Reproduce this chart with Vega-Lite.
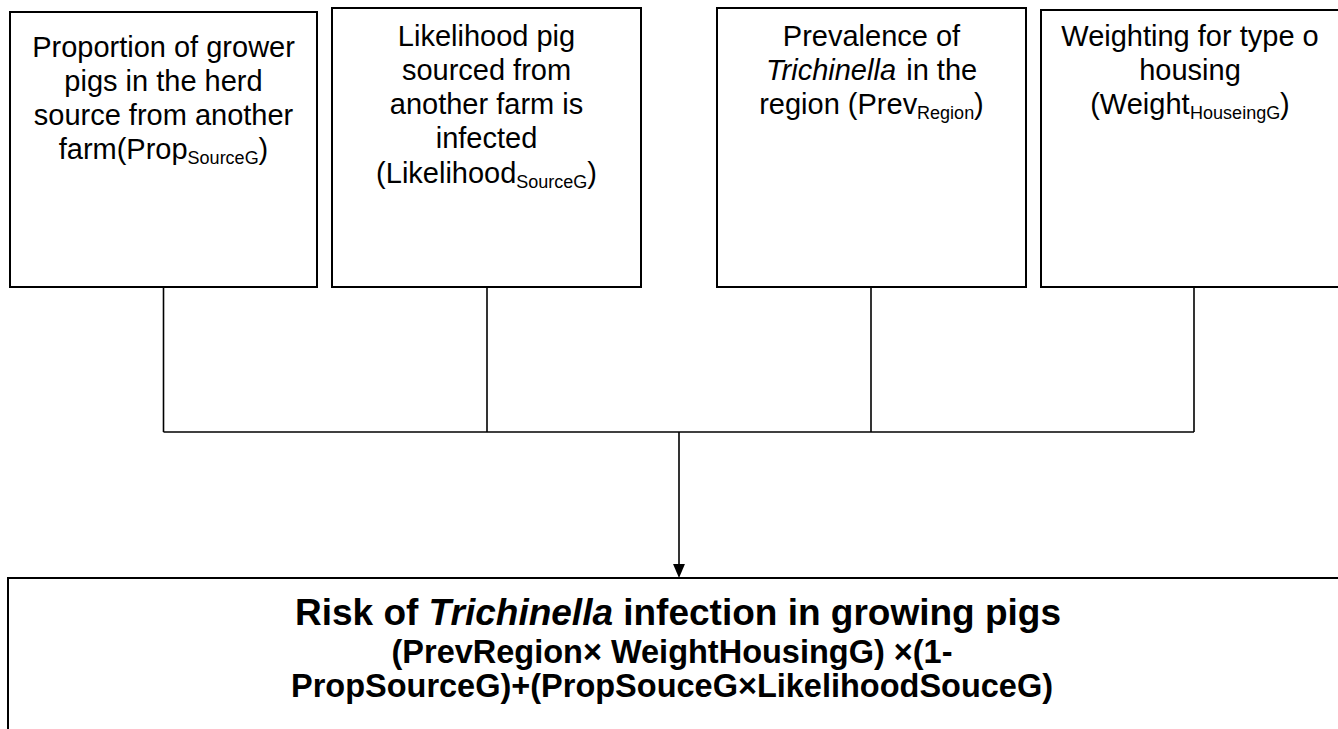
{
  "$schema": "https://vega.github.io/schema/vega-lite/v6.json",
  "width": 1338,
  "height": 729,
  "autosize": "none",
  "padding": 0,
  "background": "white",
  "config": {"view": {"stroke": null}},
  "datasets": {
    "boxes": [
      {"box": "Proportion sourced", "x": 10, "x2": 317, "y": 12, "y2": 287},
      {"box": "Likelihood sourced infected", "x": 332, "x2": 641, "y": 8, "y2": 287},
      {"box": "Prevalence region", "x": 717, "x2": 1026, "y": 8, "y2": 287},
      {"box": "Weighting housing", "x": 1041, "x2": 1340, "y": 10, "y2": 287},
      {"box": "Risk growing pigs", "x": 8, "x2": 1346, "y": 578, "y2": 760}
    ],
    "links": [
      {"link": "from box 1", "x": 163.5, "y": 287, "x2": 163.5, "y2": 432},
      {"link": "from box 2", "x": 487, "y": 287, "x2": 487, "y2": 432},
      {"link": "from box 3", "x": 871, "y": 287, "x2": 871, "y2": 432},
      {"link": "from box 4", "x": 1194, "y": 287, "x2": 1194, "y2": 432},
      {"link": "join", "x": 163.5, "y": 432, "x2": 1194, "y2": 432},
      {"link": "to result", "x": 679, "y": 432, "x2": 679, "y2": 566}
    ],
    "heads": [
      {"head": "to result", "x": 679, "y": 571}
    ],
    "labels": [
      {"role": "body", "x": 163.5, "y": 57, "text": "Proportion of grower"},
      {"role": "body", "x": 163.5, "y": 91, "text": "pigs in the herd"},
      {"role": "body", "x": 163.5, "y": 125, "text": "source from another"},
      {"role": "bodyLeft", "x": 58.7, "y": 159, "text": "farm(Prop"},
      {"role": "sub", "x": 187.6, "y": 164, "text": "SourceG"},
      {"role": "bodyLeft", "x": 258.6, "y": 159, "text": ")"},

      {"role": "body", "x": 486.5, "y": 46, "text": "Likelihood pig"},
      {"role": "body", "x": 486.5, "y": 80, "text": "sourced from"},
      {"role": "body", "x": 486.5, "y": 114, "text": "another farm is"},
      {"role": "body", "x": 486.5, "y": 148, "text": "infected"},
      {"role": "bodyLeft", "x": 376.1, "y": 183, "text": "(Likelihood"},
      {"role": "sub", "x": 516.3, "y": 188, "text": "SourceG"},
      {"role": "bodyLeft", "x": 587.3, "y": 183, "text": ")"},

      {"role": "body", "x": 871.5, "y": 46, "text": "Prevalence of"},
      {"role": "bodyItalic", "x": 766, "y": 80, "text": "Trichinella"},
      {"role": "bodyLeft", "x": 906.2, "y": 80, "text": "in the"},
      {"role": "bodyLeft", "x": 759.2, "y": 114, "text": "region (Prev"},
      {"role": "sub", "x": 917.1, "y": 119, "text": "Region"},
      {"role": "bodyLeft", "x": 974.1, "y": 114, "text": ")"},

      {"role": "body", "x": 1190, "y": 46, "text": "Weighting for type o"},
      {"role": "body", "x": 1190, "y": 80, "text": "housing"},
      {"role": "bodyLeft", "x": 1090.2, "y": 114, "text": "(Weight"},
      {"role": "sub", "x": 1190.1, "y": 119, "text": "HouseingG"},
      {"role": "bodyLeft", "x": 1280.1, "y": 114, "text": ")"},

      {"role": "title", "x": 295, "y": 625, "text": "Risk of"},
      {"role": "titleItalic", "x": 428.6, "y": 625, "text": "Trichinella"},
      {"role": "title", "x": 623.2, "y": 625, "text": "infection in growing pigs"},
      {"role": "formula", "x": 672, "y": 663, "text": "(PrevRegion× WeightHousingG) ×(1-"},
      {"role": "formula", "x": 672, "y": 697, "text": "PropSourceG)+(PropSouceG×LikelihoodSouceG)"}
    ]
  },
  "encoding": {
    "x": {"field": "x", "type": "quantitative", "axis": null, "scale": {"domain": [0, 1338], "nice": false, "zero": false}},
    "y": {"field": "y", "type": "quantitative", "axis": null, "scale": {"domain": [0, 729], "nice": false, "zero": false, "reverse": true}}
  },
  "layer": [
    {
      "data": {"name": "boxes"},
      "mark": {"type": "rect", "fill": "white", "stroke": "black", "strokeWidth": 2},
      "encoding": {"x2": {"field": "x2"}, "y2": {"field": "y2"}}
    },
    {
      "data": {"name": "links"},
      "mark": {"type": "rule", "stroke": "black", "strokeWidth": 1.6},
      "encoding": {"x2": {"field": "x2"}, "y2": {"field": "y2"}}
    },
    {
      "data": {"name": "heads"},
      "mark": {"type": "point", "shape": "M-0.85,-1L0.85,-1L0,1Z", "filled": true, "fill": "black", "stroke": null, "size": 196, "opacity": 1},
      "encoding": {}
    },
    {
      "data": {"name": "labels"},
      "transform": [{"filter": "datum.role === 'body'"}],
      "mark": {"type": "text", "font": "Liberation Sans", "fontSize": 29, "align": "center", "baseline": "alphabetic", "color": "black"},
      "encoding": {"text": {"field": "text"}}
    },
    {
      "data": {"name": "labels"},
      "transform": [{"filter": "datum.role === 'bodyLeft'"}],
      "mark": {"type": "text", "font": "Liberation Sans", "fontSize": 29, "align": "left", "baseline": "alphabetic", "color": "black"},
      "encoding": {"text": {"field": "text"}}
    },
    {
      "data": {"name": "labels"},
      "transform": [{"filter": "datum.role === 'bodyItalic'"}],
      "mark": {"type": "text", "font": "Liberation Sans", "fontSize": 29, "fontStyle": "italic", "align": "left", "baseline": "alphabetic", "color": "black"},
      "encoding": {"text": {"field": "text"}}
    },
    {
      "data": {"name": "labels"},
      "transform": [{"filter": "datum.role === 'sub'"}],
      "mark": {"type": "text", "font": "Liberation Sans", "fontSize": 18, "align": "left", "baseline": "alphabetic", "color": "black"},
      "encoding": {"text": {"field": "text"}}
    },
    {
      "data": {"name": "labels"},
      "transform": [{"filter": "datum.role === 'title'"}],
      "mark": {"type": "text", "font": "Liberation Sans", "fontSize": 37, "fontWeight": "bold", "align": "left", "baseline": "alphabetic", "color": "black"},
      "encoding": {"text": {"field": "text"}}
    },
    {
      "data": {"name": "labels"},
      "transform": [{"filter": "datum.role === 'titleItalic'"}],
      "mark": {"type": "text", "font": "Liberation Sans", "fontSize": 37, "fontWeight": "bold", "fontStyle": "italic", "align": "left", "baseline": "alphabetic", "color": "black"},
      "encoding": {"text": {"field": "text"}}
    },
    {
      "data": {"name": "labels"},
      "transform": [{"filter": "datum.role === 'formula'"}],
      "mark": {"type": "text", "font": "Liberation Sans", "fontSize": 32.5, "fontWeight": "bold", "align": "center", "baseline": "alphabetic", "color": "black"},
      "encoding": {"text": {"field": "text"}}
    }
  ]
}
